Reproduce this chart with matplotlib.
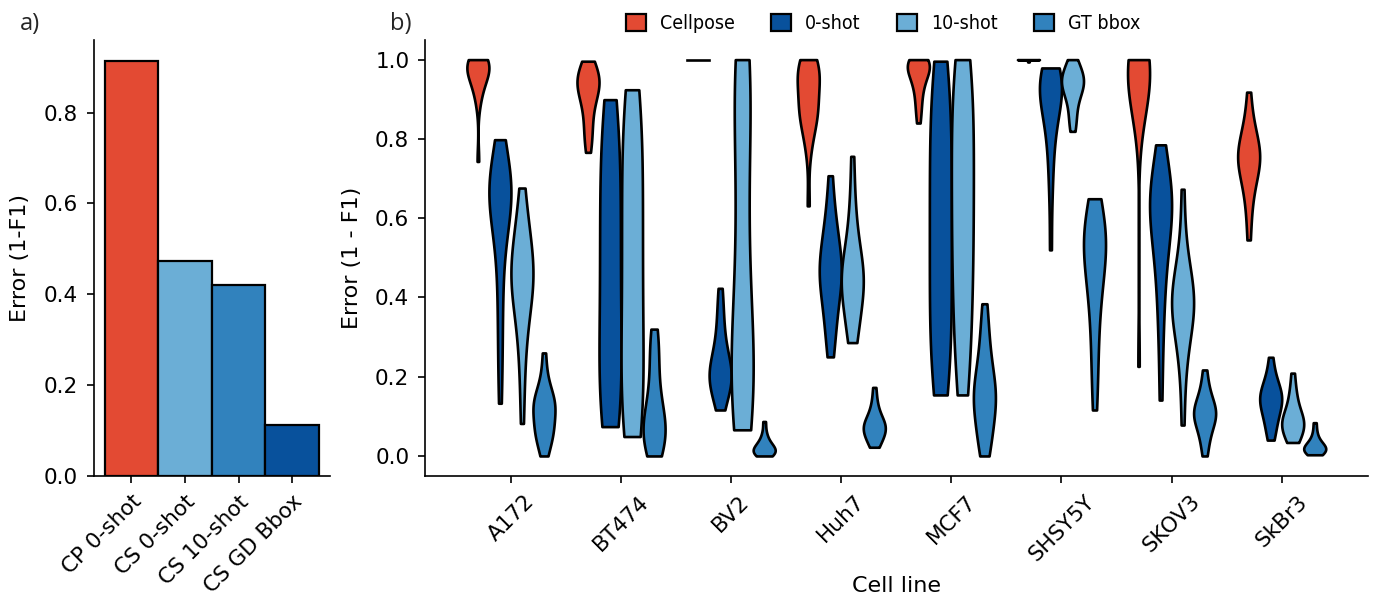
import numpy as np
import pandas as pd
import matplotlib
matplotlib.use("Agg")
import matplotlib.pyplot as plt
import seaborn as sns
from matplotlib.patches import Patch
from matplotlib import font_manager

cell_lines = ["A172", "BT474", "BV2", "Huh7", "MCF7", "SHSY5Y", "SKOV3", "SkBr3"]
methods = ["Cellpose", "0-shot", "10-shot", "GT bbox"]
method_colors = ["#e34a33", "#08519c", "#6baed6", "#3182bd"]

bar_labels = ["CP 0-shot", "CS 0-shot", "CS 10-shot", "CS GD Bbox"]
bar_values = [0.915, 0.473, 0.421, 0.112]
bar_colors = ["#e34a33", "#6baed6", "#3182bd", "#08519c"]

# per-image error (1 - F1)
cellpose_err = {
    "A172": [1.0, 1.0, 1.0, 1.0, 0.995, 0.99, 0.99, 0.985, 0.98, 0.975, 0.97, 0.965, 0.96, 0.95, 0.94, 0.93, 0.91, 0.89, 0.743],
    "BT474": [0.996, 0.99, 0.98, 0.97, 0.96, 0.955, 0.95, 0.945, 0.94, 0.935, 0.93, 0.92, 0.91, 0.90, 0.89, 0.87, 0.85, 0.83, 0.81, 0.79, 0.766],
    "BV2": [1.0, 1.0, 1.0, 1.0, 1.0, 1.0, 1.0, 1.0, 1.0, 1.0],
    "Huh7": [1.0, 1.0, 0.99, 0.98, 0.975, 0.97, 0.965, 0.96, 0.95, 0.94, 0.925, 0.90, 0.88, 0.875, 0.87, 0.865, 0.86, 0.85, 0.83, 0.80, 0.77, 0.631],
    "MCF7": [1.0, 1.0, 1.0, 0.995, 0.99, 0.99, 0.985, 0.98, 0.975, 0.97, 0.96, 0.95, 0.94, 0.93, 0.91, 0.89, 0.87, 0.84],
    "SHSY5Y": [1.0, 1.0, 1.0, 1.0, 1.0, 1.0, 1.0, 1.0, 1.0, 1.0, 1.0, 1.0, 1.0, 1.0, 0.994],
    "SKOV3": [1.0, 1.0, 1.0, 1.0, 0.995, 0.99, 0.985, 0.98, 0.975, 0.97, 0.96, 0.95, 0.94, 0.93, 0.92, 0.90, 0.88, 0.226],
    "SkBr3": [0.918, 0.86, 0.83, 0.81, 0.79, 0.78, 0.77, 0.76, 0.755, 0.75, 0.74, 0.73, 0.72, 0.70, 0.68, 0.65, 0.61, 0.545],
}
zero_shot_err = {
    "A172": [0.798, 0.76, 0.73, 0.71, 0.70, 0.69, 0.68, 0.675, 0.67, 0.665, 0.66, 0.655, 0.65, 0.64, 0.62, 0.60, 0.57, 0.53, 0.48, 0.42, 0.36, 0.29, 0.22, 0.133],
    "BT474": [0.899, 0.87, 0.83, 0.79, 0.75, 0.71, 0.67, 0.63, 0.59, 0.55, 0.51, 0.47, 0.43, 0.39, 0.35, 0.31, 0.27, 0.23, 0.19, 0.16, 0.13, 0.10, 0.085, 0.074],
    "BV2": [0.423, 0.38, 0.34, 0.31, 0.28, 0.26, 0.24, 0.23, 0.22, 0.21, 0.205, 0.20, 0.19, 0.18, 0.17, 0.16, 0.14, 0.116],
    "Huh7": [0.707, 0.64, 0.60, 0.57, 0.55, 0.53, 0.51, 0.49, 0.48, 0.47, 0.46, 0.45, 0.44, 0.42, 0.40, 0.38, 0.35, 0.32, 0.29, 0.25],
    "MCF7": [0.996, 0.97, 0.93, 0.89, 0.85, 0.81, 0.77, 0.73, 0.69, 0.65, 0.61, 0.57, 0.53, 0.49, 0.45, 0.41, 0.37, 0.33, 0.29, 0.25, 0.21, 0.18, 0.154],
    "SHSY5Y": [0.979, 0.97, 0.96, 0.955, 0.95, 0.945, 0.94, 0.935, 0.93, 0.92, 0.91, 0.90, 0.88, 0.86, 0.84, 0.81, 0.77, 0.72, 0.65, 0.52],
    "SKOV3": [0.785, 0.74, 0.71, 0.69, 0.67, 0.66, 0.65, 0.64, 0.63, 0.62, 0.60, 0.58, 0.56, 0.53, 0.50, 0.46, 0.41, 0.35, 0.27, 0.141],
    "SkBr3": [0.249, 0.21, 0.19, 0.175, 0.165, 0.155, 0.15, 0.145, 0.14, 0.13, 0.12, 0.11, 0.095, 0.08, 0.06, 0.04],
}
ten_shot_err = {
    "A172": [0.676, 0.62, 0.59, 0.56, 0.54, 0.52, 0.50, 0.48, 0.47, 0.46, 0.45, 0.44, 0.43, 0.41, 0.39, 0.37, 0.34, 0.30, 0.25, 0.18, 0.082],
    "BT474": [0.924, 0.91, 0.88, 0.84, 0.80, 0.76, 0.72, 0.68, 0.64, 0.60, 0.56, 0.52, 0.48, 0.44, 0.40, 0.36, 0.32, 0.28, 0.24, 0.20, 0.16, 0.13, 0.10, 0.075, 0.06, 0.049],
    "BV2": [1.0, 1.0, 1.0, 0.99, 0.96, 0.92, 0.87, 0.82, 0.76, 0.70, 0.64, 0.58, 0.52, 0.46, 0.40, 0.35, 0.31, 0.28, 0.25, 0.22, 0.20, 0.18, 0.16, 0.14, 0.12, 0.10, 0.085, 0.066],
    "Huh7": [0.756, 0.66, 0.60, 0.56, 0.53, 0.50, 0.48, 0.47, 0.46, 0.45, 0.44, 0.43, 0.42, 0.40, 0.38, 0.36, 0.33, 0.30, 0.286],
    "MCF7": [1.0, 0.99, 0.96, 0.92, 0.88, 0.84, 0.80, 0.76, 0.72, 0.68, 0.64, 0.60, 0.56, 0.52, 0.48, 0.44, 0.40, 0.35, 0.30, 0.25, 0.20, 0.154],
    "SHSY5Y": [1.0, 0.99, 0.98, 0.97, 0.96, 0.955, 0.95, 0.945, 0.94, 0.935, 0.93, 0.92, 0.91, 0.90, 0.88, 0.86, 0.84, 0.819],
    "SKOV3": [0.673, 0.56, 0.50, 0.46, 0.44, 0.42, 0.41, 0.40, 0.39, 0.38, 0.37, 0.36, 0.34, 0.32, 0.29, 0.25, 0.19, 0.078],
    "SkBr3": [0.209, 0.17, 0.15, 0.13, 0.115, 0.105, 0.095, 0.09, 0.085, 0.08, 0.075, 0.07, 0.06, 0.05, 0.04, 0.034],
}
gt_bbox_err = {
    "A172": [0.26, 0.21, 0.18, 0.16, 0.15, 0.14, 0.135, 0.13, 0.125, 0.12, 0.11, 0.095, 0.08, 0.07, 0.065, 0.06, 0.05, 0.035, 0.02, 0.0],
    "BT474": [0.32, 0.30, 0.27, 0.24, 0.21, 0.18, 0.15, 0.13, 0.11, 0.10, 0.09, 0.08, 0.07, 0.06, 0.05, 0.04, 0.03, 0.02, 0.01, 0.0],
    "BV2": [0.087, 0.06, 0.045, 0.035, 0.03, 0.025, 0.02, 0.018, 0.015, 0.012, 0.01, 0.008, 0.005, 0.003, 0.0],
    "Huh7": [0.173, 0.14, 0.12, 0.105, 0.095, 0.088, 0.082, 0.078, 0.074, 0.07, 0.065, 0.06, 0.055, 0.048, 0.04, 0.03, 0.022],
    "MCF7": [0.384, 0.34, 0.30, 0.27, 0.24, 0.22, 0.20, 0.18, 0.17, 0.16, 0.15, 0.14, 0.13, 0.12, 0.10, 0.08, 0.06, 0.04, 0.02, 0.0],
    "SHSY5Y": [0.649, 0.62, 0.60, 0.58, 0.565, 0.555, 0.545, 0.535, 0.52, 0.50, 0.48, 0.46, 0.43, 0.40, 0.36, 0.31, 0.25, 0.19, 0.116],
    "SKOV3": [0.217, 0.18, 0.16, 0.14, 0.13, 0.12, 0.115, 0.11, 0.105, 0.10, 0.09, 0.08, 0.07, 0.05, 0.03, 0.0],
    "SkBr3": [0.084, 0.06, 0.045, 0.035, 0.03, 0.025, 0.022, 0.02, 0.018, 0.015, 0.012, 0.009, 0.006, 0.003],
}

rows = []
for m, d in zip(methods, [cellpose_err, zero_shot_err, ten_shot_err, gt_bbox_err]):
    for c in cell_lines:
        for v in d[c]:
            rows.append((c, m, v))
df = pd.DataFrame(rows, columns=["cell", "method", "err"])

# narrow font for the legend, if there is one
condensed = [f for f in font_manager.fontManager.ttflist
             if f.name == "DejaVu Sans" and "condensed" in str(f.stretch)]
names = {f.name for f in font_manager.fontManager.ttflist}
if condensed:
    leg_font = font_manager.FontProperties(family="DejaVu Sans", stretch="condensed", size=14)
elif "Liberation Sans Narrow" in names:
    leg_font = font_manager.FontProperties(family="Liberation Sans Narrow", size=15)
else:
    leg_font = font_manager.FontProperties(family="DejaVu Sans", size=13)

plt.rcParams["font.size"] = 16
plt.rcParams["xtick.labelsize"] = 15.5
plt.rcParams["ytick.labelsize"] = 15.5
plt.rcParams["axes.linewidth"] = 1.2
for ax_name in ["xtick", "ytick"]:
    plt.rcParams[ax_name + ".major.size"] = 5.3
    plt.rcParams[ax_name + ".major.width"] = 1.2
    plt.rcParams[ax_name + ".major.pad"] = 6

fig = plt.figure(figsize=(13.8, 6.03), dpi=100)
ax1 = fig.add_axes([0.068, 0.211, 0.171, 0.723])
ax2 = fig.add_axes([0.308, 0.211, 0.683, 0.723])

# a) mean error bars
ax1.bar(range(len(bar_values)), bar_values, width=1.0, color=bar_colors,
        edgecolor="black", linewidth=1.6)
ax1.set_xticks(range(len(bar_labels)))
ax1.set_xticklabels(bar_labels, rotation=45, ha="right", rotation_mode="anchor")
ax1.set_ylabel("Error (1-F1)")
ax1.yaxis.set_label_coords(-0.271, 0.5)
ax1.spines["top"].set_visible(False)
ax1.spines["right"].set_visible(False)

# b) per cell line violins
sns.violinplot(data=df, x="cell", y="err", hue="method", order=cell_lines,
               hue_order=methods, palette=method_colors, cut=0,
               density_norm="width", inner=None, linecolor="black",
               linewidth=1.9, saturation=1, legend=False, ax=ax2)
for poly in ax2.collections:
    poly.set_linewidth(1.9)
    poly.set_edgecolor("black")
for ln in ax2.lines:
    ln.set_linewidth(1.9)
ax2.set_xlim(-0.78, 7.78)
ax2.set_ylim(-0.05, 1.05)
ax2.set_xlabel("Cell line")
ax2.set_ylabel("Error (1 - F1)")
ax2.xaxis.set_label_coords(0.5, -0.229)
ax2.yaxis.set_label_coords(-0.067, 0.5)
plt.setp(ax2.get_xticklabels(), rotation=45)
ax2.spines["top"].set_visible(False)
ax2.spines["right"].set_visible(False)

handles = [Patch(facecolor=c, edgecolor="black", linewidth=1.6) for c in method_colors]
ax2.legend(handles, methods, loc="center", bbox_to_anchor=(0.486, 1.037), ncol=4,
           frameon=False, prop=leg_font, handlelength=1.0, handleheight=1.0,
           handletextpad=0.72, columnspacing=1.9)

fig.text(0.0145, 0.961, "a)", fontsize=17, family="Open Sans", va="center", color="#262626")
fig.text(0.2826, 0.961, "b)", fontsize=17, family="Open Sans", va="center", color="#262626")

fig.savefig("out.png", dpi=100)
